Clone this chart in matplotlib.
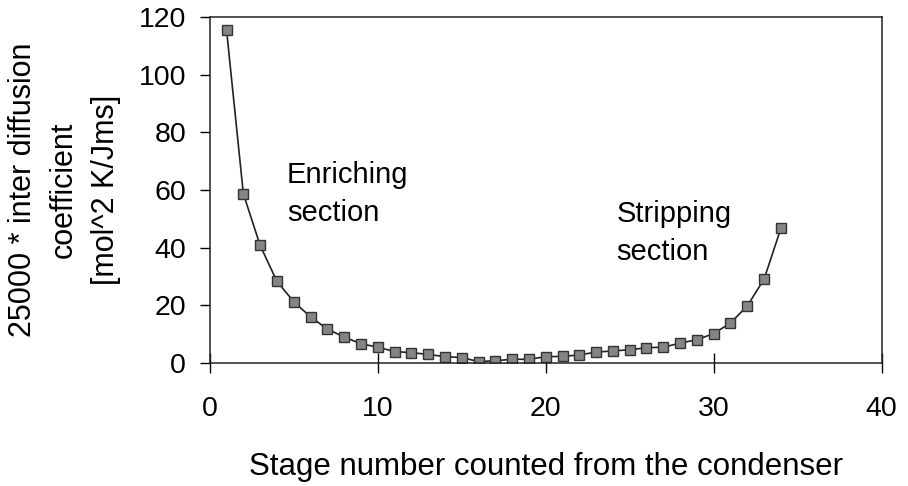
import matplotlib
matplotlib.use("Agg")
import matplotlib.pyplot as plt

plt.rcParams['font.family'] = ['Liberation Sans', 'DejaVu Sans']

# stage numbers and scaled inter diffusion coefficient
stages = list(range(1, 35))
coeff = [115.5, 58.7, 40.8, 28.3, 21.3, 16.0, 11.8, 9.0, 6.7, 5.5,
         4.0, 3.6, 3.0, 2.2, 1.9, 0.5, 0.8, 1.3, 1.3, 2.2,
         2.3, 2.8, 3.8, 4.2, 4.6, 5.3, 5.5, 6.9, 8.1, 10.2,
         13.9, 19.8, 29.1, 46.7]

x_ticks = [0, 10, 20, 30, 40]
y_ticks = [0, 20, 40, 60, 80, 100, 120]

fig = plt.figure(figsize=(9.08, 4.86), dpi=100)
ax = fig.add_axes([0.231, 0.253, 0.740, 0.712])

ax.plot(stages, coeff, color='#222222', linewidth=1.2, marker='s',
        markersize=7.5, markerfacecolor='#858585', markeredgecolor='#333333',
        markeredgewidth=1.0)

ax.set_xlim(0, 40)
ax.set_ylim(0, 120)
ax.set_xticks(x_ticks)
ax.set_yticks(y_ticks)
ax.tick_params(axis='x', direction='inout', length=14, width=1, labelsize=20.5, pad=17)
ax.tick_params(axis='y', direction='out', length=7, width=1, labelsize=20.5, pad=10)
for sp in ax.spines.values():
    sp.set_linewidth(1.1)
    sp.set_color('#222222')

ax.text(4.6, 70, "Enriching\nsection", fontsize=21, va='top', ha='left',
        linespacing=1.45)
ax.text(24.2, 56.5, "Stripping\nsection", fontsize=21, va='top', ha='left',
        linespacing=1.45)

ax.set_xlabel("Stage number counted from the condenser", fontsize=22.5, labelpad=21)
ax.set_ylabel("25000 * inter diffusion\ncoefficient\n[mol^2 K/Jms]", fontsize=22,
              labelpad=13, linespacing=1.5)

fig.savefig("out.png", dpi=100)
